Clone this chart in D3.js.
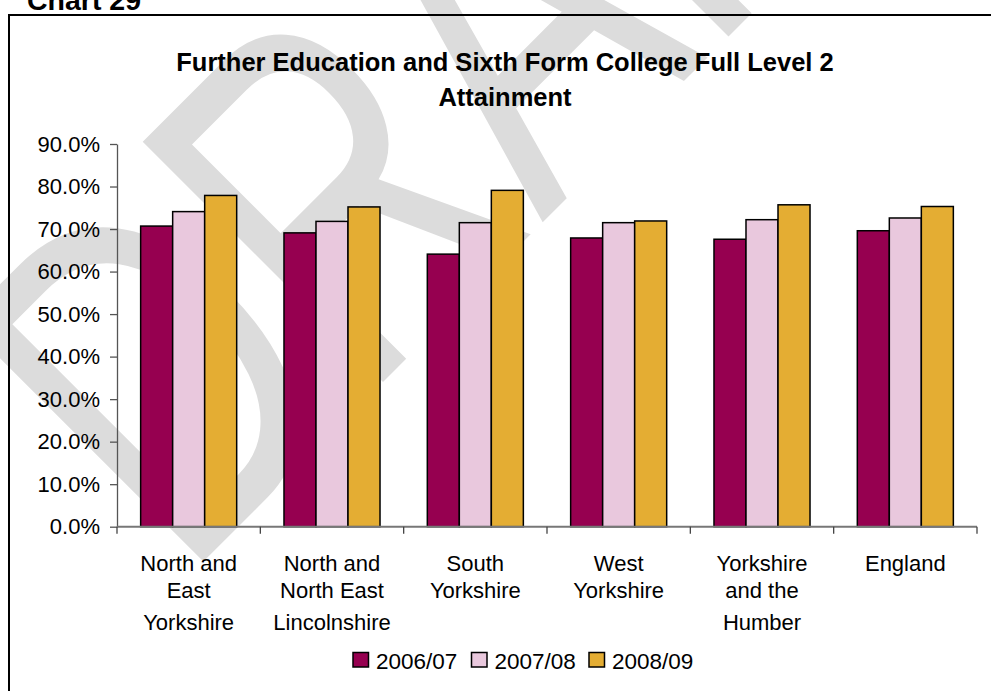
<!DOCTYPE html>
<html><head><meta charset="utf-8">
<script src="https://cdn.jsdelivr.net/npm/d3@7/dist/d3.min.js"></script>
<style>
html,body{margin:0;padding:0;background:#fff;}
svg{display:block;font-family:"Liberation Sans",Arial,Helvetica,sans-serif;}
</style>
</head><body>
<svg id="chart" width="991" height="691"></svg>
<script>
// ---- data ----
const categories = ["North and East Yorkshire", "North and North East Lincolnshire", "South Yorkshire", "West Yorkshire", "Yorkshire and the Humber", "England"];
const categoryLines = [["North and","East","Yorkshire"],["North and","North East","Lincolnshire"],["South","Yorkshire"],["West","Yorkshire"],["Yorkshire","and the","Humber"],["England"]];
const seriesNames = ["2006/07", "2007/08", "2008/09"];
const values0607 = [0.707, 0.691, 0.641, 0.679, 0.676, 0.696];
const values0708 = [0.741, 0.718, 0.715, 0.715, 0.722, 0.726];
const values0809 = [0.779, 0.752, 0.791, 0.719, 0.757, 0.753];
const seriesColors = ["#960050", "#E9C8DD", "#E4AD33"];
const yTicks = [0, 0.1, 0.2, 0.3, 0.4, 0.5, 0.6, 0.7, 0.8, 0.9];
const titleLines = ["Further Education and Sixth Form College Full Level 2", "Attainment"];
const chartLabel = "Chart 29";
const watermark = "DRAFT";

const seriesValues = [values0607, values0708, values0809];

const svg = d3.select("#chart");

// watermark (behind everything)
svg.append("text")
  .attr("transform", "translate(183,582) rotate(-45) scale(0.712,1)")
  .attr("font-size", 494)
  .attr("fill", "#dcdcdc")
  .text(watermark);

// chart label above frame
svg.append("text")
  .attr("x", 27).attr("y", 9.5)
  .attr("font-size", 28.5).attr("font-weight", "bold")
  .attr("fill", "#000")
  .text(chartLabel);

// frame
svg.append("rect")
  .attr("x", 9).attr("y", 15).attr("width", 1000).attr("height", 700)
  .attr("fill", "none").attr("stroke", "#000").attr("stroke-width", 2);

// title
const title = svg.append("text")
  .attr("text-anchor", "middle").attr("font-weight", "bold").attr("font-size", 25.5).attr("fill", "#000");
titleLines.forEach((t, i) => {
  title.append("tspan").attr("x", 505).attr("y", 70.5 + i * 35.5).text(t);
});

// scales
const plotLeft = 117, plotRight = 977, plotTop = 144, plotBottom = 526.7;
const x0 = d3.scaleBand().domain(categories).range([plotLeft, plotRight]).paddingInner(0.33).paddingOuter(0.165);
const x1 = d3.scaleBand().domain(seriesNames).range([0, x0.bandwidth()]);
const y = d3.scaleLinear().domain([0, 0.9]).range([plotBottom, plotTop]);

// bars
const g = svg.append("g");
categories.forEach((c, ci) => {
  seriesNames.forEach((s, si) => {
    const v = seriesValues[si][ci];
    g.append("rect")
      .attr("x", x0(c) + x1(s))
      .attr("y", y(v))
      .attr("width", x1.bandwidth())
      .attr("height", y(0) - y(v))
      .attr("fill", seriesColors[si])
      .attr("stroke", "#000").attr("stroke-width", 1.5);
  });
});

// y axis
const yAxis = d3.axisLeft(y).tickValues(yTicks).tickFormat(d3.format(".1%")).tickSizeInner(7).tickSizeOuter(0).tickPadding(10);
const ya = svg.append("g").attr("transform", `translate(${plotLeft},0)`).call(yAxis);
ya.select(".domain").attr("stroke", "#555").attr("stroke-width", 1.3);
ya.selectAll(".tick line").attr("stroke", "#555").attr("stroke-width", 1.3);
ya.selectAll(".tick text").attr("font-size", 22).attr("fill", "#000").attr("font-family", "Liberation Sans, Arial, sans-serif");

// x axis (category boundary ticks)
const xa = svg.append("g");
xa.append("line").attr("x1", plotLeft).attr("x2", plotRight).attr("y1", y(0)).attr("y2", y(0))
  .attr("stroke", "#777").attr("stroke-width", 2);
categories.forEach((c, i) => {
  const bx = x0(c) - x0.step() * x0.paddingOuter();
  xa.append("line").attr("x1", bx).attr("x2", bx).attr("y1", y(0)).attr("y2", y(0) + 7).attr("stroke", "#444").attr("stroke-width", 1.3);
});
xa.append("line").attr("x1", plotRight).attr("x2", plotRight).attr("y1", y(0)).attr("y2", y(0) + 7).attr("stroke", "#444").attr("stroke-width", 1.3);

const lineY = [571, 597.5, 629.5];
categories.forEach((c, i) => {
  const t = xa.append("text").attr("text-anchor", "middle").attr("font-size", 22).attr("fill", "#000");
  categoryLines[i].forEach((ln, li) => {
    t.append("tspan").attr("x", x0(c) + x0.bandwidth() / 2).attr("y", lineY[li]).text(ln);
  });
});

// legend
const legendX = [353, 471.5, 589];
const leg = svg.append("g");
seriesNames.forEach((s, i) => {
  leg.append("rect").attr("x", legendX[i]).attr("y", 652.5).attr("width", 15.5).attr("height", 14.5)
    .attr("fill", seriesColors[i]).attr("stroke", "#000").attr("stroke-width", 1.5);
  leg.append("text").attr("x", legendX[i] + 23).attr("y", 668.5).attr("font-size", 22.5).attr("fill", "#000").text(s);
});
</script>
</body></html>
